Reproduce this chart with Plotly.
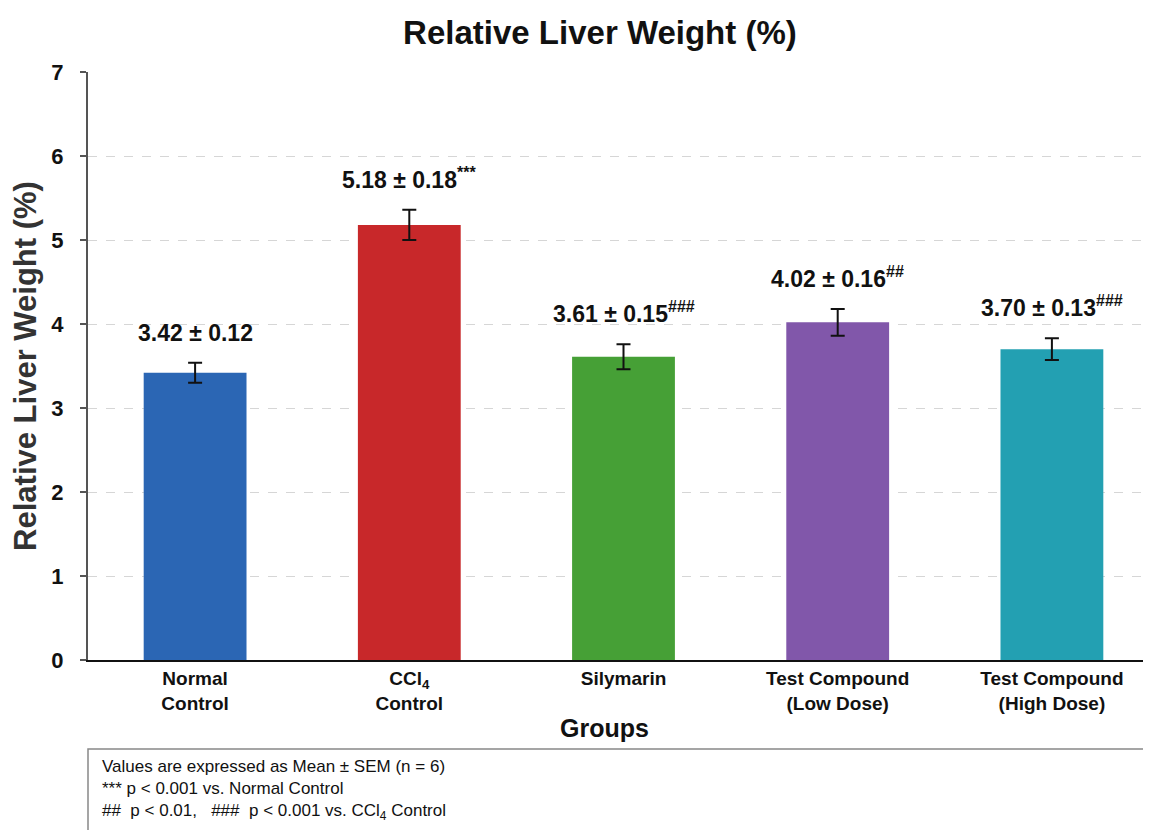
import plotly.graph_objects as go

groups = ["Normal<br>Control", "CCl<sub>4</sub><br>Control", "Silymarin",
          "Test Compound<br>(Low Dose)", "Test Compound<br>(High Dose)"]
means = [3.42, 5.18, 3.61, 4.02, 3.70]
sems = [0.12, 0.18, 0.15, 0.16, 0.13]
sig = ["", "***", "###", "##", "###"]
colors = ["#2b66b4", "#c8282a", "#46a036", "#8157aa", "#23a0b2"]
yticks = [0, 1, 2, 3, 4, 5, 6, 7]

FONT = "Liberation Sans, Arial, sans-serif"
x_idx = list(range(len(groups)))

fig = go.Figure()
fig.add_trace(go.Bar(
    x=x_idx, y=means, width=0.48,
    marker=dict(color=colors, line=dict(width=0)),
    error_y=dict(type="data", array=sems, visible=True, color="#111111",
                 thickness=2, width=7),
    showlegend=False,
))

for i, (m, s, g) in enumerate(zip(means, sems, sig)):
    txt = f"<b>{m:.2f} ± {s:.2f}</b>"
    if g:
        txt += f"<sup><b>{g}</b></sup>"
    fig.add_annotation(x=i, y=m + s, text=txt, showarrow=False,
                       yanchor="bottom", yshift=15,
                       font=dict(size=23, color="#111111", family=FONT))

fig.update_layout(
    width=1151, height=830,
    margin=dict(l=80, r=0, t=64, b=178, autoexpand=False),
    paper_bgcolor="white", plot_bgcolor="white",
    title=dict(text="<b>Relative Liver Weight (%)</b>", x=0.478, xanchor="center",
               xref="paper", y=0.97, yanchor="middle", automargin=False,
               font=dict(size=33, color="#111111", family=FONT)),
    font=dict(family=FONT, color="#111111"),
)

fig.update_xaxes(
    range=[-0.5, 4.5], automargin=False,
    tickmode="array", tickvals=x_idx, ticktext=[f"<b>{g}</b>" for g in groups],
    tickfont=dict(size=19, color="#111111", family=FONT),
    showline=True, linecolor="#111111", linewidth=2,
    ticks="", showgrid=False, zeroline=False,
)
fig.update_yaxes(
    range=[0, 7], tickmode="array", tickvals=yticks, automargin=False,
    ticktext=[f"<b>{v}</b>" for v in yticks],
    tickfont=dict(size=22, color="#111111", family=FONT),
    ticklabelstandoff=12,
    showline=True, linecolor="#555555", linewidth=2,
    ticks="outside", ticklen=6, tickcolor="#555555", tickwidth=2,
    showgrid=True, gridcolor="#d6d6d6", griddash="dash", gridwidth=1,
    zeroline=False,
    title=dict(text="<b>Relative Liver Weight (%)</b>",
               font=dict(size=31, color="#333333", family=FONT), standoff=10),
)

# x-axis title as annotation (offset from plot centre, as in the original)
fig.add_annotation(xref="paper", yref="paper", x=0.4818, y=-0.1156,
                   xanchor="center", yanchor="middle", showarrow=False,
                   text="<b>Groups</b>",
                   font=dict(size=25, color="#111111", family=FONT))

# footnote box
fig.add_shape(type="rect", xref="paper", yref="paper",
              x0=0, x1=1.01, y0=-0.35, y1=-0.1514,
              line=dict(color="#888888", width=1.5), fillcolor="rgba(0,0,0,0)")
foot = ["Values are expressed as Mean ± SEM (n = 6)",
        "*** p < 0.001 vs. Normal Control",
        "##  p < 0.01,   ###  p < 0.001 vs. CCl<sub>4</sub> Control"]
fig.add_annotation(xref="paper", yref="paper", x=0.011, y=-0.1615,
                   xanchor="left", yanchor="top", align="left",
                   text="<br>".join(foot), showarrow=False,
                   font=dict(size=17, color="#111111", family=FONT))

fig.write_html("out.html")
